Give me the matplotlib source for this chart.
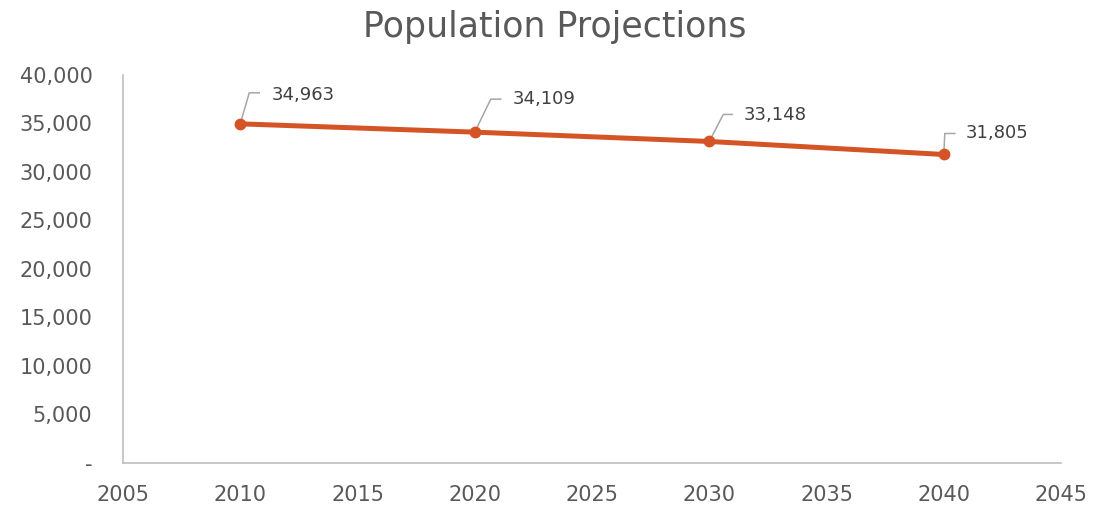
import matplotlib.pyplot as plt
import matplotlib.transforms as mtransforms

years = [2010, 2020, 2030, 2040]
population = [34963, 34109, 33148, 31805]
x_ticks = [2005, 2010, 2015, 2020, 2025, 2030, 2035, 2040, 2045]
y_ticks = [0, 5000, 10000, 15000, 20000, 25000, 30000, 35000, 40000]

# leader line offsets in pixels: (elbow dx, elbow dy, end dx, text dx, text dy)
label_offsets = [(9, 31, 19, 31, 29), (16, 33, 26, 38, 33),
                 (14, 27, 23, 34, 26), (1, 21, 11, 22, 21)]

plt.rcParams['font.family'] = ['DejaVu Sans']
text_color = '#595959'
line_color = '#D55425'

fig = plt.figure(figsize=(11.1, 5.05), dpi=100)
ax = fig.add_axes([0.1108, 0.0832, 0.8451, 0.7683])

ax.plot(years, population, color=line_color, linewidth=3.6, marker='o',
        markersize=7.5, solid_capstyle='round', zorder=3)

for yr, val, off in zip(years, population, label_offsets):
    edx, edy, ex, tdx, tdy = off
    tr = mtransforms.Affine2D() + mtransforms.ScaledTranslation(yr, val, ax.transData)
    ax.plot([0, edx, ex], [0, edy, edy], color='#A6A6A6', linewidth=1.1,
            transform=tr, zorder=2, clip_on=False)
    ax.text(tdx, tdy, f'{val:,}', transform=tr, fontsize=13, color='#404040',
            ha='left', va='center')

ax.set_xlim(2005, 2045)
ax.set_ylim(0, 40000)
ax.set_xticks(x_ticks)
ax.set_yticks(y_ticks)
ax.set_yticklabels(['-' if v == 0 else f'{v:,}' for v in y_ticks])
ax.tick_params(axis='both', length=0, labelsize=15, labelcolor=text_color)
ax.tick_params(axis='y', pad=22)
ax.tick_params(axis='x', pad=16)

for side in ['top', 'right']:
    ax.spines[side].set_visible(False)
for side in ['left', 'bottom']:
    ax.spines[side].set_color('#BFBFBF')
    ax.spines[side].set_linewidth(1.2)

fig.text(0.5, 0.946, 'Population Projections', ha='center', va='center',
         fontsize=25, color=text_color)

fig.savefig('out.png', dpi=100)
